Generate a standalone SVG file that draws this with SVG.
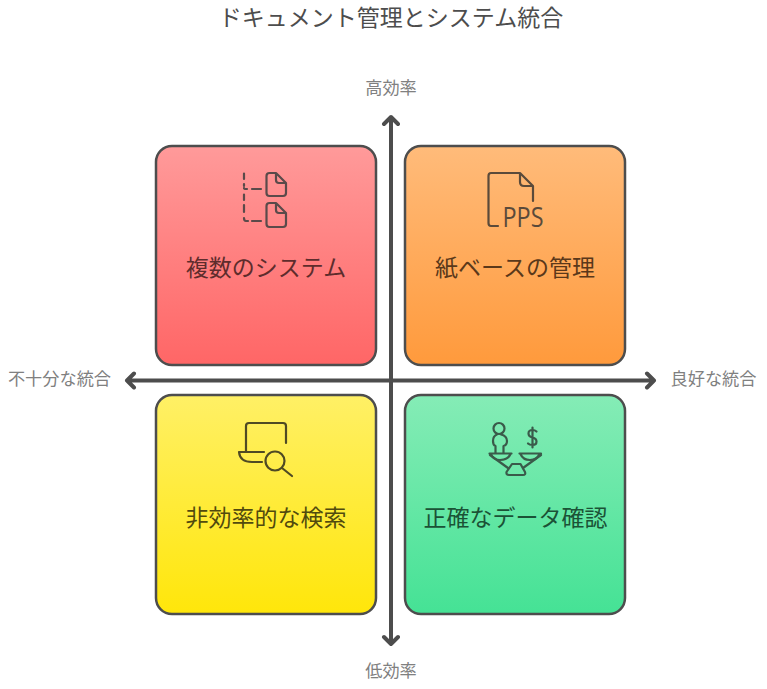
<svg xmlns="http://www.w3.org/2000/svg" width="767" height="689" viewBox="0 0 767 689">
<style>
text{font-family:"Noto Sans CJK JP","Noto Sans CJK SC",sans-serif}
.box{stroke:#4d4d4d;stroke-width:2.500}
.lab{font-size:23px;text-anchor:middle}
.ax{font-size:17.2px;fill:#808080;text-anchor:middle}
.ic{fill:none;stroke-width:2.200;stroke-linecap:round;stroke-linejoin:round}
.axis{fill:none;stroke:#4d4d4d;stroke-width:4;stroke-linecap:round;stroke-linejoin:round}
</style>
<defs>
<linearGradient id="gr" x1="0" y1="0" x2="0" y2="1"><stop offset="0" stop-color="#ff9a9a"/><stop offset="1" stop-color="#ff6666"/></linearGradient>
<linearGradient id="go" x1="0" y1="0" x2="0" y2="1"><stop offset="0" stop-color="#ffbb7a"/><stop offset="1" stop-color="#ff9a3c"/></linearGradient>
<linearGradient id="gy" x1="0" y1="0" x2="0" y2="1"><stop offset="0" stop-color="#fff066"/><stop offset="1" stop-color="#ffe60a"/></linearGradient>
<linearGradient id="gg" x1="0" y1="0" x2="0" y2="1"><stop offset="0" stop-color="#85ecb6"/><stop offset="1" stop-color="#45e295"/></linearGradient>
</defs>
<text x="391" y="26" font-size="23" fill="#4d4d4d" text-anchor="middle">ドキュメント管理とシステム統合</text>
<g id="connectors">
<path class="axis" d="M391 644V117M384 124L391 117L398 124M384 637L391 644L398 637"/>
<path class="axis" d="M127 380.500H654M134 373.500L127 380.500L134 387.500M647 373.500L654 380.500L647 387.500"/>
</g>
<g id="node-red">
<rect class="box" x="156" y="146" width="220" height="219" rx="16" fill="url(#gr)"/>
<g class="ic" stroke="#5a4a4a">
<path d="M244 173.500V179M244 184V186M244 188Q244 189 246 189H247M252 189H261M244 194.500V200M244 205V212M244 218Q244 221 246 221H248M252 221H261"/>
<path d="M266.500 176Q266.500 173 269.500 173H276L286 183V193Q286 196 283 196H269.500Q266.500 196 266.500 193ZM276 173V180Q276 183 279 183H286"/>
<path d="M266.500 206Q266.500 203 269.500 203H276L286 213V224Q286 227 283 227H269.500Q266.500 227 266.500 224ZM276 203V210Q276 213 279 213H286"/>
</g>
<text class="lab" x="266" y="276" fill="#5e2c2c">複数のシステム</text>
</g>
<g id="node-orange">
<rect class="box" x="405" y="146" width="220" height="219" rx="16" fill="url(#go)"/>
<g class="ic" stroke="#5a4a3a">
<path d="M498 226H491Q488.500 226 488.500 223V176Q488.500 173 491 173H520L533 186V201M520 173V182Q520 186 524 186H533"/>
</g>
<text x="523" y="227" font-size="27" fill="#5a4a3a" text-anchor="middle" textLength="41" lengthAdjust="spacingAndGlyphs" style="font-family:'Open Sans',sans-serif">PPS</text>
<text class="lab" x="515" y="276" fill="#5a381a">紙ベースの管理</text>
</g>
<g id="node-yellow">
<rect class="box" x="156" y="395" width="220" height="219" rx="16" fill="url(#gy)"/>
<g class="ic" stroke="#4f4a24">
<path d="M246 452V426Q246 423 249 423H283Q286 423 286 426V443"/>
<path d="M239 452H264M239 452Q240 462 252 462H262"/>
<circle cx="275" cy="461" r="9.500"/>
<path d="M282 468L292 476"/>
</g>
<text class="lab" x="266" y="526" fill="#514a0e">非効率的な検索</text>
</g>
<g id="node-green">
<rect class="box" x="405" y="395" width="220" height="219" rx="16" fill="url(#gg)"/>
<g class="ic" stroke="#3a5a4a">
<circle cx="499" cy="428.500" r="5.500"/>
<path d="M497 434.500Q493 436 493 441Q493 445 495.500 446V453M501 434.500Q507 436 507 441Q507 445 503.500 446V453"/>
<path d="M489.500 453.500H511.500M491 454Q493 460 500 460Q508 460 510.500 454"/>
<path d="M519.500 453.500H541M520.500 454Q523 460 530 460Q537 460 539.500 454"/>
<path d="M490 455L508 468M541 455L523 468"/>
<path d="M506.500 472Q506 475 509 475H523Q526 475 525 472L520.500 464H512Z"/>
<path d="M536.500 431.500Q535 430 532.500 430Q528.500 430 528.500 433.500Q528.500 436.500 532.500 437.500Q536.500 438.500 536.500 441.500Q536.500 445 532.500 445Q529.500 445 528 443.500M532.500 427.500V447.500"/>
</g>
<text class="lab" x="515.500" y="526" fill="#1b5236">正確なデータ確認</text>
</g>
<text class="ax" x="391" y="94">高効率</text>
<text class="ax" x="391" y="677">低効率</text>
<text class="ax" x="59.500" y="385">不十分な統合</text>
<text class="ax" x="713.500" y="385">良好な統合</text>
</svg>
